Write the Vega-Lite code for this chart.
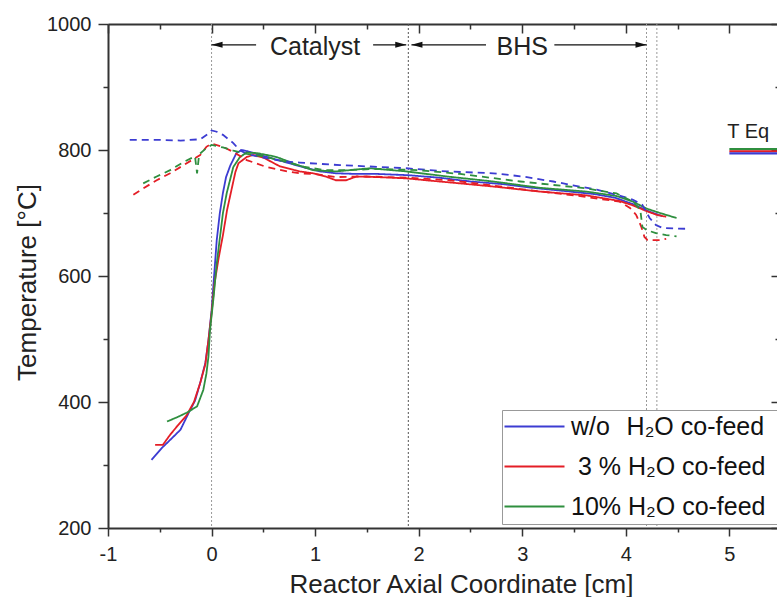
{
  "$schema": "https://vega.github.io/schema/vega-lite/v6.json",
  "width": 669,
  "height": 504,
  "autosize": {"type": "none"},
  "padding": {"left": 108, "top": 24, "right": 0, "bottom": 69},
  "background": "white",
  "config": {
    "font": "Liberation Sans",
    "view": {"stroke": null},
    "axis": {
      "grid": false,
      "domainColor": "#333",
      "tickColor": "#333",
      "labelColor": "#222",
      "titleColor": "#222",
      "labelFont": "Liberation Sans",
      "titleFont": "Liberation Sans",
      "titleFontWeight": "normal",
      "tickWidth": 1.5,
      "domainWidth": 2,
      "labelFlush": false
    },
    "legend": {
      "symbolType": "M-3,0H3",
      "symbolSize": 400,
      "symbolStrokeWidth": 2,
      "symbolOffset": 16,
      "labelOffset": 24,
      "labelFontSize": 25,
      "labelFont": "Liberation Sans",
      "labelColor": "#111",
      "labelLimit": 500,
      "rowPadding": 14,
      "padding": 4,
      "fillColor": "white",
      "strokeColor": "#999",
      "direction": "vertical"
    }
  },
  "datasets": {
    "vlight": [{"x": 0}, {"x": 4.2}, {"x": 4.3}],
    "vdark": [{"x": 1.9}],
    "teq": [
      {"series": "10%", "x": 5.0, "x2": 5.46, "T": 801.5},
      {"series": "3 %", "x": 5.0, "x2": 5.46, "T": 798},
      {"series": "w/o", "x": 5.0, "x2": 5.46, "T": 794.5}
    ],
    "arrows": [
      {"x": 0.0, "x2": 0.43, "T": 967},
      {"x": 1.56, "x2": 1.88, "T": 967},
      {"x": 1.93, "x2": 2.65, "T": 967},
      {"x": 3.31, "x2": 4.2, "T": 967}
    ],
    "heads": [
      {"x": 0.0, "T": 967, "dir": "left"},
      {"x": 1.88, "T": 967, "dir": "right"},
      {"x": 1.93, "T": 967, "dir": "left"},
      {"x": 4.2, "T": 967, "dir": "right"}
    ],
    "zones": [
      {"x": 1.0, "T": 951, "label": "Catalyst"},
      {"x": 3.0, "T": 951, "label": "BHS"}
    ],
    "teqlabel": [{"x": 4.98, "T": 819, "label": "T Eq"}],
    "profiles": [
      {"series": "w/o", "kind": "solid", "x": -0.58, "T": 308},
      {"series": "w/o", "kind": "solid", "x": -0.48, "T": 327},
      {"series": "w/o", "kind": "solid", "x": -0.38, "T": 343},
      {"series": "w/o", "kind": "solid", "x": -0.3, "T": 356},
      {"series": "w/o", "kind": "solid", "x": -0.22, "T": 383},
      {"series": "w/o", "kind": "solid", "x": -0.16, "T": 402},
      {"series": "w/o", "kind": "solid", "x": -0.11, "T": 430},
      {"series": "w/o", "kind": "solid", "x": -0.06, "T": 462},
      {"series": "w/o", "kind": "solid", "x": -0.03, "T": 498},
      {"series": "w/o", "kind": "solid", "x": 0.0, "T": 545},
      {"series": "w/o", "kind": "solid", "x": 0.02, "T": 590},
      {"series": "w/o", "kind": "solid", "x": 0.05, "T": 657},
      {"series": "w/o", "kind": "solid", "x": 0.08, "T": 700},
      {"series": "w/o", "kind": "solid", "x": 0.11, "T": 732},
      {"series": "w/o", "kind": "solid", "x": 0.14, "T": 757},
      {"series": "w/o", "kind": "solid", "x": 0.18, "T": 775},
      {"series": "w/o", "kind": "solid", "x": 0.24, "T": 795},
      {"series": "w/o", "kind": "solid", "x": 0.29, "T": 800},
      {"series": "w/o", "kind": "solid", "x": 0.35, "T": 798},
      {"series": "w/o", "kind": "solid", "x": 0.45, "T": 793},
      {"series": "w/o", "kind": "solid", "x": 0.6, "T": 786},
      {"series": "w/o", "kind": "solid", "x": 0.75, "T": 779},
      {"series": "w/o", "kind": "solid", "x": 0.9, "T": 772},
      {"series": "w/o", "kind": "solid", "x": 1.05, "T": 766},
      {"series": "w/o", "kind": "solid", "x": 1.2, "T": 763},
      {"series": "w/o", "kind": "solid", "x": 1.4, "T": 762},
      {"series": "w/o", "kind": "solid", "x": 1.6, "T": 762},
      {"series": "w/o", "kind": "solid", "x": 1.9, "T": 760},
      {"series": "w/o", "kind": "solid", "x": 2.2, "T": 756},
      {"series": "w/o", "kind": "solid", "x": 2.5, "T": 750},
      {"series": "w/o", "kind": "solid", "x": 2.8, "T": 746},
      {"series": "w/o", "kind": "solid", "x": 3.1, "T": 740},
      {"series": "w/o", "kind": "solid", "x": 3.4, "T": 735},
      {"series": "w/o", "kind": "solid", "x": 3.7, "T": 730},
      {"series": "w/o", "kind": "solid", "x": 3.9, "T": 724},
      {"series": "w/o", "kind": "solid", "x": 4.07, "T": 714},
      {"series": "w/o", "kind": "solid", "x": 4.2, "T": 704},
      {"series": "w/o", "kind": "solid", "x": 4.35, "T": 695},

      {"series": "3 %", "kind": "solid", "x": -0.545, "T": 332},
      {"series": "3 %", "kind": "solid", "x": -0.47, "T": 332},
      {"series": "3 %", "kind": "solid", "x": -0.4, "T": 348},
      {"series": "3 %", "kind": "solid", "x": -0.33, "T": 362},
      {"series": "3 %", "kind": "solid", "x": -0.24, "T": 379},
      {"series": "3 %", "kind": "solid", "x": -0.17, "T": 400},
      {"series": "3 %", "kind": "solid", "x": -0.11, "T": 430},
      {"series": "3 %", "kind": "solid", "x": -0.06, "T": 460},
      {"series": "3 %", "kind": "solid", "x": -0.03, "T": 498},
      {"series": "3 %", "kind": "solid", "x": 0.0, "T": 541},
      {"series": "3 %", "kind": "solid", "x": 0.03, "T": 590},
      {"series": "3 %", "kind": "solid", "x": 0.07, "T": 630},
      {"series": "3 %", "kind": "solid", "x": 0.11, "T": 665},
      {"series": "3 %", "kind": "solid", "x": 0.15, "T": 705},
      {"series": "3 %", "kind": "solid", "x": 0.19, "T": 735},
      {"series": "3 %", "kind": "solid", "x": 0.23, "T": 765},
      {"series": "3 %", "kind": "solid", "x": 0.26, "T": 779},
      {"series": "3 %", "kind": "solid", "x": 0.34, "T": 789},
      {"series": "3 %", "kind": "solid", "x": 0.4, "T": 792},
      {"series": "3 %", "kind": "solid", "x": 0.5, "T": 788},
      {"series": "3 %", "kind": "solid", "x": 0.66, "T": 774},
      {"series": "3 %", "kind": "solid", "x": 0.85, "T": 766},
      {"series": "3 %", "kind": "solid", "x": 0.98, "T": 763},
      {"series": "3 %", "kind": "solid", "x": 1.1, "T": 758},
      {"series": "3 %", "kind": "solid", "x": 1.2, "T": 752},
      {"series": "3 %", "kind": "solid", "x": 1.3, "T": 752},
      {"series": "3 %", "kind": "solid", "x": 1.4, "T": 758},
      {"series": "3 %", "kind": "solid", "x": 1.6, "T": 757},
      {"series": "3 %", "kind": "solid", "x": 1.88, "T": 755},
      {"series": "3 %", "kind": "solid", "x": 2.07, "T": 752},
      {"series": "3 %", "kind": "solid", "x": 2.4, "T": 747},
      {"series": "3 %", "kind": "solid", "x": 2.72, "T": 742},
      {"series": "3 %", "kind": "solid", "x": 3.17, "T": 734},
      {"series": "3 %", "kind": "solid", "x": 3.62, "T": 728},
      {"series": "3 %", "kind": "solid", "x": 3.94, "T": 719},
      {"series": "3 %", "kind": "solid", "x": 4.07, "T": 712},
      {"series": "3 %", "kind": "solid", "x": 4.2, "T": 703},
      {"series": "3 %", "kind": "solid", "x": 4.3, "T": 697},
      {"series": "3 %", "kind": "solid", "x": 4.39, "T": 694},

      {"series": "10%", "kind": "solid", "x": -0.43, "T": 369},
      {"series": "10%", "kind": "solid", "x": -0.33, "T": 376},
      {"series": "10%", "kind": "solid", "x": -0.24, "T": 383},
      {"series": "10%", "kind": "solid", "x": -0.14, "T": 393},
      {"series": "10%", "kind": "solid", "x": -0.08, "T": 419},
      {"series": "10%", "kind": "solid", "x": -0.05, "T": 445},
      {"series": "10%", "kind": "solid", "x": -0.03, "T": 472},
      {"series": "10%", "kind": "solid", "x": -0.015, "T": 514},
      {"series": "10%", "kind": "solid", "x": 0.02, "T": 567},
      {"series": "10%", "kind": "solid", "x": 0.05, "T": 620},
      {"series": "10%", "kind": "solid", "x": 0.08, "T": 660},
      {"series": "10%", "kind": "solid", "x": 0.11, "T": 700},
      {"series": "10%", "kind": "solid", "x": 0.147, "T": 732},
      {"series": "10%", "kind": "solid", "x": 0.21, "T": 773},
      {"series": "10%", "kind": "solid", "x": 0.275, "T": 789},
      {"series": "10%", "kind": "solid", "x": 0.34, "T": 796},
      {"series": "10%", "kind": "solid", "x": 0.44, "T": 795},
      {"series": "10%", "kind": "solid", "x": 0.6, "T": 790},
      {"series": "10%", "kind": "solid", "x": 0.66, "T": 787},
      {"series": "10%", "kind": "solid", "x": 0.8, "T": 778},
      {"series": "10%", "kind": "solid", "x": 0.98, "T": 768},
      {"series": "10%", "kind": "solid", "x": 1.2, "T": 766},
      {"series": "10%", "kind": "solid", "x": 1.53, "T": 771},
      {"series": "10%", "kind": "solid", "x": 1.88, "T": 766},
      {"series": "10%", "kind": "solid", "x": 2.27, "T": 758},
      {"series": "10%", "kind": "solid", "x": 2.72, "T": 750},
      {"series": "10%", "kind": "solid", "x": 3.17, "T": 740},
      {"series": "10%", "kind": "solid", "x": 3.62, "T": 734},
      {"series": "10%", "kind": "solid", "x": 3.91, "T": 727},
      {"series": "10%", "kind": "solid", "x": 4.07, "T": 718},
      {"series": "10%", "kind": "solid", "x": 4.2, "T": 707},
      {"series": "10%", "kind": "solid", "x": 4.33, "T": 700},
      {"series": "10%", "kind": "solid", "x": 4.49, "T": 692},

      {"series": "w/o", "kind": "dashed", "x": -0.79, "T": 816},
      {"series": "w/o", "kind": "dashed", "x": -0.5, "T": 816},
      {"series": "w/o", "kind": "dashed", "x": -0.3, "T": 815},
      {"series": "w/o", "kind": "dashed", "x": -0.11, "T": 817},
      {"series": "w/o", "kind": "dashed", "x": -0.04, "T": 825},
      {"series": "w/o", "kind": "dashed", "x": 0.0, "T": 831},
      {"series": "w/o", "kind": "dashed", "x": 0.05, "T": 829},
      {"series": "w/o", "kind": "dashed", "x": 0.11, "T": 824},
      {"series": "w/o", "kind": "dashed", "x": 0.21, "T": 811},
      {"series": "w/o", "kind": "dashed", "x": 0.27, "T": 800},
      {"series": "w/o", "kind": "dashed", "x": 0.35, "T": 793},
      {"series": "w/o", "kind": "dashed", "x": 0.5, "T": 788},
      {"series": "w/o", "kind": "dashed", "x": 0.7, "T": 782},
      {"series": "w/o", "kind": "dashed", "x": 0.85, "T": 780},
      {"series": "w/o", "kind": "dashed", "x": 1.24, "T": 776},
      {"series": "w/o", "kind": "dashed", "x": 1.5, "T": 774},
      {"series": "w/o", "kind": "dashed", "x": 1.88, "T": 771},
      {"series": "w/o", "kind": "dashed", "x": 2.27, "T": 766},
      {"series": "w/o", "kind": "dashed", "x": 2.72, "T": 763},
      {"series": "w/o", "kind": "dashed", "x": 3.0, "T": 758},
      {"series": "w/o", "kind": "dashed", "x": 3.3, "T": 750},
      {"series": "w/o", "kind": "dashed", "x": 3.49, "T": 744},
      {"series": "w/o", "kind": "dashed", "x": 3.72, "T": 737},
      {"series": "w/o", "kind": "dashed", "x": 3.91, "T": 729},
      {"series": "w/o", "kind": "dashed", "x": 4.07, "T": 721},
      {"series": "w/o", "kind": "dashed", "x": 4.16, "T": 713},
      {"series": "w/o", "kind": "dashed", "x": 4.23, "T": 692},
      {"series": "w/o", "kind": "dashed", "x": 4.29, "T": 681},
      {"series": "w/o", "kind": "dashed", "x": 4.36, "T": 676},
      {"series": "w/o", "kind": "dashed", "x": 4.58, "T": 675},

      {"series": "3 %", "kind": "dashed", "x": -0.755, "T": 729},
      {"series": "3 %", "kind": "dashed", "x": -0.66, "T": 739},
      {"series": "3 %", "kind": "dashed", "x": -0.53, "T": 752},
      {"series": "3 %", "kind": "dashed", "x": -0.4, "T": 763},
      {"series": "3 %", "kind": "dashed", "x": -0.27, "T": 776},
      {"series": "3 %", "kind": "dashed", "x": -0.11, "T": 792},
      {"series": "3 %", "kind": "dashed", "x": -0.05, "T": 805},
      {"series": "3 %", "kind": "dashed", "x": 0.0, "T": 810},
      {"series": "3 %", "kind": "dashed", "x": 0.11, "T": 805},
      {"series": "3 %", "kind": "dashed", "x": 0.21, "T": 797},
      {"series": "3 %", "kind": "dashed", "x": 0.34, "T": 784},
      {"series": "3 %", "kind": "dashed", "x": 0.53, "T": 773},
      {"series": "3 %", "kind": "dashed", "x": 0.73, "T": 766},
      {"series": "3 %", "kind": "dashed", "x": 0.85, "T": 763},
      {"series": "3 %", "kind": "dashed", "x": 1.0, "T": 762},
      {"series": "3 %", "kind": "dashed", "x": 1.2, "T": 757},
      {"series": "3 %", "kind": "dashed", "x": 1.5, "T": 758},
      {"series": "3 %", "kind": "dashed", "x": 1.9, "T": 756},
      {"series": "3 %", "kind": "dashed", "x": 2.3, "T": 752},
      {"series": "3 %", "kind": "dashed", "x": 2.7, "T": 744},
      {"series": "3 %", "kind": "dashed", "x": 2.98, "T": 738},
      {"series": "3 %", "kind": "dashed", "x": 3.5, "T": 728},
      {"series": "3 %", "kind": "dashed", "x": 3.94, "T": 718},
      {"series": "3 %", "kind": "dashed", "x": 4.04, "T": 708},
      {"series": "3 %", "kind": "dashed", "x": 4.1, "T": 697},
      {"series": "3 %", "kind": "dashed", "x": 4.15, "T": 678},
      {"series": "3 %", "kind": "dashed", "x": 4.18, "T": 662},
      {"series": "3 %", "kind": "dashed", "x": 4.21, "T": 657},
      {"series": "3 %", "kind": "dashed", "x": 4.33, "T": 657},
      {"series": "3 %", "kind": "dashed", "x": 4.39, "T": 659},

      {"series": "10%", "kind": "dashed", "x": -0.66, "T": 747},
      {"series": "10%", "kind": "dashed", "x": -0.53, "T": 758},
      {"series": "10%", "kind": "dashed", "x": -0.4, "T": 768},
      {"series": "10%", "kind": "dashed", "x": -0.27, "T": 781},
      {"series": "10%", "kind": "dashed", "x": -0.16, "T": 790},
      {"series": "10%", "kind": "dashed", "x": -0.14, "T": 763},
      {"series": "10%", "kind": "dashed", "x": -0.12, "T": 793},
      {"series": "10%", "kind": "dashed", "x": -0.05, "T": 803},
      {"series": "10%", "kind": "dashed", "x": 0.0, "T": 808},
      {"series": "10%", "kind": "dashed", "x": 0.11, "T": 804},
      {"series": "10%", "kind": "dashed", "x": 0.21, "T": 799},
      {"series": "10%", "kind": "dashed", "x": 0.34, "T": 794},
      {"series": "10%", "kind": "dashed", "x": 0.5, "T": 790},
      {"series": "10%", "kind": "dashed", "x": 0.7, "T": 782},
      {"series": "10%", "kind": "dashed", "x": 0.9, "T": 773},
      {"series": "10%", "kind": "dashed", "x": 1.1, "T": 768},
      {"series": "10%", "kind": "dashed", "x": 1.3, "T": 768},
      {"series": "10%", "kind": "dashed", "x": 1.6, "T": 770},
      {"series": "10%", "kind": "dashed", "x": 2.0, "T": 768},
      {"series": "10%", "kind": "dashed", "x": 2.4, "T": 762},
      {"series": "10%", "kind": "dashed", "x": 2.98, "T": 750},
      {"series": "10%", "kind": "dashed", "x": 3.62, "T": 739},
      {"series": "10%", "kind": "dashed", "x": 3.91, "T": 731},
      {"series": "10%", "kind": "dashed", "x": 4.07, "T": 718},
      {"series": "10%", "kind": "dashed", "x": 4.14, "T": 705},
      {"series": "10%", "kind": "dashed", "x": 4.16, "T": 678},
      {"series": "10%", "kind": "dashed", "x": 4.2, "T": 673},
      {"series": "10%", "kind": "dashed", "x": 4.29, "T": 668},
      {"series": "10%", "kind": "dashed", "x": 4.39, "T": 665},
      {"series": "10%", "kind": "dashed", "x": 4.49, "T": 663}
    ]
  },
  "layer": [
    {
      "data": {"name": "vlight"},
      "mark": {"type": "rule", "color": "#9a9a9a", "strokeDash": [2, 2], "strokeWidth": 1},
      "encoding": {
        "x": {
          "field": "x", "type": "quantitative",
          "scale": {"domain": [-1, 5.46], "nice": false, "zero": false},
          "axis": {
            "orient": "bottom",
            "values": [-1, 0, 1, 2, 3, 4, 5],
            "tickSize": 8,
            "labelFontSize": 20,
            "labelPadding": 8,
            "labelExpr": "'' + datum.value",
            "title": "Reactor Axial Coordinate [cm]",
            "titleFontSize": 26,
            "titleX": 353,
            "titleY": 64,
            "titleAlign": "center",
            "titleBaseline": "alphabetic"
          }
        }
      }
    },
    {
      "data": {"name": "vdark"},
      "mark": {"type": "rule", "color": "#555", "strokeDash": [2, 2], "strokeWidth": 1},
      "encoding": {
        "x": {"field": "x", "type": "quantitative", "axis": null}
      }
    },
    {
      "data": {"name": "profiles"},
      "mark": {"type": "line", "strokeWidth": 1.8},
      "encoding": {
        "x": {
          "field": "x", "type": "quantitative",
          "axis": {
            "orient": "top",
            "values": [-1, 0, 1, 2, 3, 4, 5],
            "labels": false,
            "tickSize": -9,
            "title": null
          }
        },
        "y": {
          "field": "T", "type": "quantitative",
          "scale": {"domain": [200, 1000], "nice": false, "zero": false},
          "axis": {
            "orient": "left",
            "values": [200, 400, 600, 800, 1000],
            "format": "d",
            "tickSize": 10,
            "labelFontSize": 20,
            "labelPadding": 7,
            "title": "Temperature [°C]",
            "titleFontSize": 26,
            "titleAngle": 270,
            "titleX": -73,
            "titleY": 258,
            "titleAlign": "center",
            "titleBaseline": "alphabetic"
          }
        },
        "color": {
          "field": "series", "type": "nominal",
          "scale": {"domain": ["w/o", "3 %", "10%"], "range": ["#3c3cd2", "#e41e26", "#2f8f3f"]},
          "legend": {
            "title": null,
            "orient": "none",
            "legendX": 394,
            "legendY": 386,
            "labelExpr": "datum.label == 'w/o' ? 'w/o\u2004\u2004H\u2082O co-feed\u00a0\u00a0\u00a0\u00a0\u200b' : datum.label == '3 %' ? '\u200b\u00a03 % H\u2082O co-feed\u00a0\u00a0\u00a0\u00a0\u200b' : '10% H\u2082O co-feed\u00a0\u00a0\u00a0\u00a0\u200b'"
          }
        },
        "strokeDash": {
          "field": "kind", "type": "nominal",
          "scale": {"domain": ["solid", "dashed"], "range": [[1, 0], [7, 5]]},
          "legend": null
        }
      }
    },
    {
      "data": {"name": "teq"},
      "mark": {"type": "rule", "strokeWidth": 2.2},
      "encoding": {
        "x": {
          "field": "x", "type": "quantitative",
          "axis": {
            "orient": "bottom",
            "values": [-0.5, 0.5, 1.5, 2.5, 3.5, 4.5],
            "labels": false,
            "domain": false,
            "tickSize": 4,
            "title": null
          }
        },
        "x2": {"field": "x2"},
        "y": {
          "field": "T", "type": "quantitative",
          "axis": {
            "orient": "left",
            "values": [300, 500, 700, 900],
            "labels": false,
            "domain": false,
            "tickSize": 5,
            "title": null
          }
        },
        "color": {"field": "series", "type": "nominal", "legend": null}
      }
    },
    {
      "data": {"name": "arrows"},
      "mark": {"type": "rule", "color": "#111", "strokeWidth": 1.2},
      "encoding": {
        "x": {
          "field": "x", "type": "quantitative",
          "axis": {
            "orient": "top",
            "values": [-0.5, 0.5, 1.5, 2.5, 3.5, 4.5],
            "labels": false,
            "domain": false,
            "tickSize": -5,
            "title": null
          }
        },
        "x2": {"field": "x2"},
        "y": {
          "field": "T", "type": "quantitative",
          "axis": {
            "orient": "right",
            "values": [200, 400, 600, 800, 1000],
            "labels": false,
            "domain": false,
            "tickSize": -6,
            "title": null
          }
        }
      }
    },
    {
      "data": {"name": "heads"},
      "mark": {"type": "point", "filled": true, "size": 121, "color": "#111", "opacity": 1, "strokeWidth": 0},
      "encoding": {
        "x": {"field": "x", "type": "quantitative", "axis": null},
        "y": {
          "field": "T", "type": "quantitative",
          "axis": {
            "orient": "right",
            "values": [300, 500, 700, 900],
            "labels": false,
            "domain": false,
            "tickSize": -2,
            "title": null
          }
        },
        "shape": {
          "field": "dir", "type": "nominal",
          "scale": {"domain": ["left", "right"], "range": ["M0,0L2,-0.55L2,0.55Z", "M0,0L-2,-0.55L-2,0.55Z"]},
          "legend": null
        }
      }
    },
    {
      "data": {"name": "zones"},
      "mark": {"type": "text", "fontSize": 25, "align": "center", "baseline": "alphabetic", "color": "#222", "font": "Liberation Sans"},
      "encoding": {
        "x": {"field": "x", "type": "quantitative", "axis": null},
        "y": {"field": "T", "type": "quantitative", "axis": null},
        "text": {"field": "label"}
      }
    },
    {
      "data": {"name": "teqlabel"},
      "mark": {"type": "text", "fontSize": 20, "align": "left", "baseline": "alphabetic", "color": "#222", "font": "Liberation Sans"},
      "encoding": {
        "x": {"field": "x", "type": "quantitative", "axis": null},
        "y": {"field": "T", "type": "quantitative", "axis": null},
        "text": {"field": "label"}
      }
    }
  ],
  "resolve": {"axis": {"x": "independent", "y": "independent"}}
}
